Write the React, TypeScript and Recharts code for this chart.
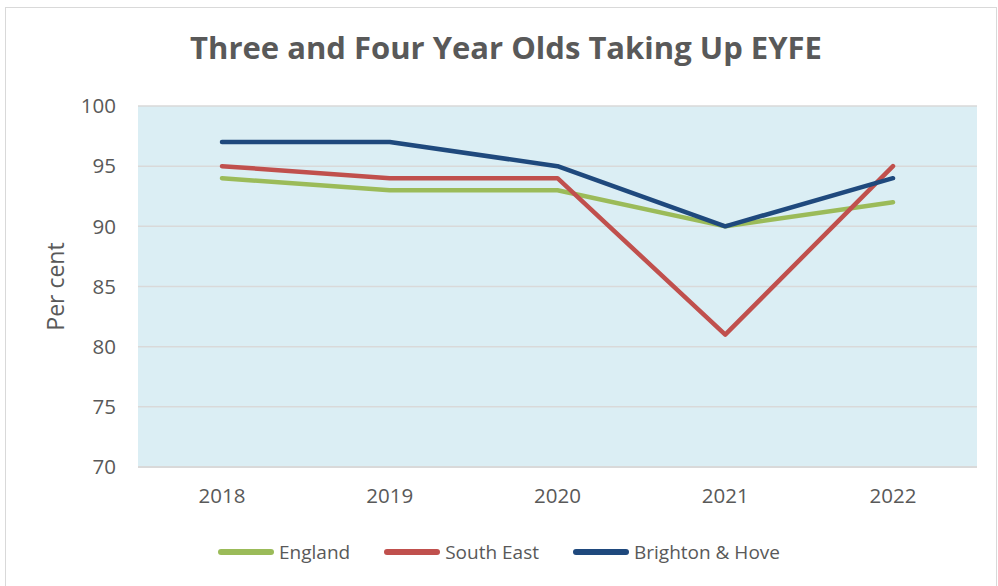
import React from 'react';
import { LineChart, Line, XAxis, YAxis, CartesianGrid, Legend, Label } from 'recharts';

const years = ['2018', '2019', '2020', '2021', '2022'];
const england = [94, 93, 93, 90, 92];
const southEast = [95, 94, 94, 81, 95];
const brighton = [97, 97, 95, 90, 94];
const yTicks = [70, 75, 80, 85, 90, 95, 100];

const seriesInfo = [
  { key: 'England', color: '#9BBB59' },
  { key: 'South East', color: '#C0504D' },
  { key: 'Brighton & Hove', color: '#1F497D' },
];

const data = years.map((y, i) => ({
  year: y,
  England: england[i],
  'South East': southEast[i],
  'Brighton & Hove': brighton[i],
}));

const FONT = '"Open Sans", "Noto Sans", sans-serif';
const TEXT = '#595959';

const renderLegend = () => (
  <div style={{ display: 'flex', justifyContent: 'center', alignItems: 'center', fontFamily: FONT, fontSize: 19, color: TEXT, height: 28 }}>
    {seriesInfo.map((s, i) => (
      <div key={s.key} style={{ display: 'flex', alignItems: 'center', marginRight: i < seriesInfo.length - 1 ? 34 : 0 }}>
        <div style={{ width: 56, height: 6, borderRadius: 3, background: s.color, marginRight: 5 }} />
        <span>{s.key}</span>
      </div>
    ))}
  </div>
);

export default function App() {
  return (
    <div style={{ position: 'absolute', left: 0, top: 0, width: 998, height: 586, background: '#fff', overflow: 'hidden' }}>
      <div style={{ position: 'absolute', left: 5, top: 7, width: 992, height: 600, border: '1.5px solid #D9D9D9', boxSizing: 'border-box' }} />
      <div style={{ position: 'absolute', left: 0, width: 1012, top: 25, textAlign: 'center', fontFamily: FONT, fontWeight: 700, fontSize: 31, lineHeight: '44px', color: TEXT }}>
        Three and Four Year Olds Taking Up EYFE
      </div>
      <LineChart width={998} height={586} data={data} margin={{ top: 106, right: 21, bottom: 61, left: 0 }}>
        <CartesianGrid vertical={false} stroke="#D9D9D9" strokeWidth={1.5} fill="#DBEEF4" fillOpacity={1} />
        <XAxis
          dataKey="year"
          padding={{ left: 84, right: 84 }}
          tickLine={false}
          tickSize={0}
          tickMargin={21}
          axisLine={{ stroke: '#D9D9D9', strokeWidth: 2 }}
          tick={{ fill: TEXT, fontSize: 20.5, fontFamily: FONT }}
        />
        <YAxis
          width={138}
          domain={[70, 100]}
          ticks={yTicks}
          interval={0}
          axisLine={false}
          tickLine={false}
          tickSize={0}
          tickMargin={22}
          tick={{ fill: TEXT, fontSize: 20.5, fontFamily: FONT }}
        >
          <Label value="Per cent" angle={-90} position="center" dx={-13} style={{ fill: TEXT, fontSize: 23, fontFamily: FONT, textAnchor: 'middle' }} />
        </YAxis>
        <Legend content={renderLegend} wrapperStyle={{ position: 'absolute', top: 538, left: 0, width: 998 }} />
        {seriesInfo.map((s) => (
          <Line
            key={s.key}
            type="linear"
            dataKey={s.key}
            stroke={s.color}
            strokeWidth={4.5}
            strokeLinecap="round"
            strokeLinejoin="round"
            dot={false}
            activeDot={false}
            isAnimationActive={false}
          />
        ))}
      </LineChart>
    </div>
  );
}
